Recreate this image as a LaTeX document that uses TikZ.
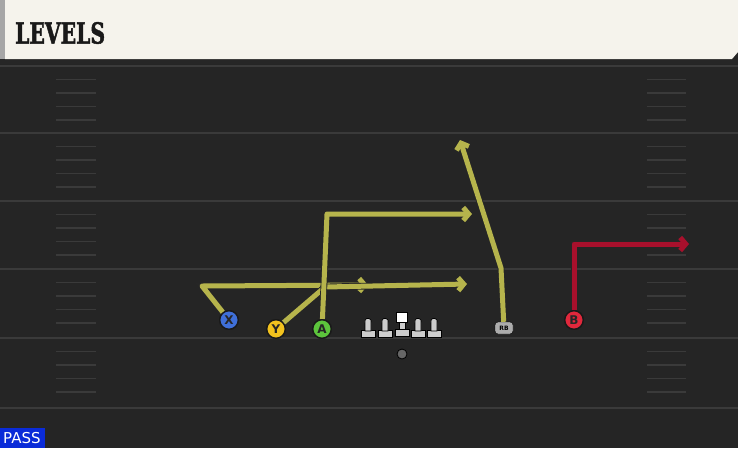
\documentclass[tikz,border=0pt]{standalone}
\usepackage{fontspec}
\setsansfont{DejaVu Sans}
\newfontfamily\titlefont[FakeStretch=0.7,FakeBold=1.5]{DejaVu Serif}
\usepackage{tikz}
\usetikzlibrary{arrows.meta}

\definecolor{fieldbg}{HTML}{252525}
\definecolor{fieldline}{HTML}{3A3A3A}
\definecolor{cream}{HTML}{F5F3EC}
\definecolor{routeyellow}{HTML}{B6B44C}
\definecolor{routered}{HTML}{A8102C}
\definecolor{xblue}{HTML}{3F6FD8}
\definecolor{yyellow}{HTML}{F2C21E}
\definecolor{agreen}{HTML}{5CC43C}
\definecolor{bred}{HTML}{E0283C}
\definecolor{passblue}{HTML}{0A2BD8}
\definecolor{olgrey}{HTML}{CDCDCD}

\begin{document}
\begin{tikzpicture}[x=1pt,y=-1pt,
  player/.style={circle,draw=black!90,line width=1.3pt,minimum size=18.5pt,inner sep=0pt,
    font=\sffamily\bfseries\fontsize{12}{12}\selectfont,text=black!85},
  route/.style={draw=routeyellow,line width=5pt,line join=round,
    preaction={draw=black!85,line width=6.8pt},
    -{Straight Barb[length=5.5pt,width=13pt]}},
  redroute/.style={route,draw=routered},
  yardline/.style={draw=fieldline,line width=2pt},
  hashmark/.style={draw=fieldline,line width=1.6pt},
  lineman/.style={draw=black,fill=olgrey,line width=0.7pt}]
\useasboundingbox (0,0) rectangle (738,448);
\fill[fieldbg] (0,0) rectangle (738,448);
%\fill[black!90] (0,59) rectangle (738,65);
\fill[black!85] (0,59) rectangle (738,64);
\fill[cream] (5,0) -- (738,0) -- (738,52) -- (732,59) -- (5,59) -- cycle;
\fill[gray!70] (0,0) rectangle (5,59);
\node[anchor=west,inner sep=0pt,font=\titlefont\bfseries\fontsize{29}{29}\selectfont,text=black!90] (title) at (15,33) {LEVELS};

\foreach \y in {66,133,201,269,338,408}
  \draw[yardline] (0,\y) -- (738,\y);
\foreach \g in {66,133,201,269,338}
  \foreach \d in {13.5,27,40.5,54}{
    \draw[hashmark] (56,\g+\d) -- (96,\g+\d);
    \draw[hashmark] (647,\g+\d) -- (686,\g+\d);
  }

% offensive line
\foreach \x in {368,385,418,434}{
  \filldraw[lineman] (\x-7,330.5) rectangle (\x+7,337.5);
  \filldraw[lineman] (\x-3,322.5) -- (\x-3,331) -- (\x+3,331) -- (\x+3,322.5) arc[start angle=-20,end angle=200,radius=3.2pt] -- cycle;
}
\filldraw[lineman] (395,329) rectangle (409,336);
\filldraw[lineman] (399,321) rectangle (405,329.5);
\filldraw[draw=black,fill=white,line width=0.7pt] (396.5,312.5) rectangle (407.5,322);
\filldraw[draw=black,fill=gray!80!black,line width=0.8pt] (402,354) circle[radius=5pt];

\node[player,fill=xblue] (X) at (229,320) {X};
\node[player,fill=yyellow] (Y) at (276,329) {Y};
\node[player,fill=agreen] (A) at (322,329) {A};
\node[player,fill=bred] (B) at (574,320) {B};
\node[draw=black,fill=gray!65,rounded corners=3pt,minimum width=18pt,minimum height=12pt,
  inner sep=0pt,font=\sffamily\bfseries\fontsize{6}{6}\selectfont] (RB) at (504,328) {RB};

\coordinate (xcut) at (202,286);
\coordinate (xend) at (368,285);
\coordinate (ycut) at (325,287);
\coordinate (yend) at (467,284);
\coordinate (acut) at (327,214);
\coordinate (aend) at (472,214);
\coordinate (rbcut) at (501,268);
\coordinate (rbend) at (460,140);
\coordinate (bcut) at (574,244);
\coordinate (bend) at (689,244);

\draw[route] (X) -- (xcut) -- (xend);
\draw[route] (Y) -- (ycut) -- (yend);
\draw[route] (A) -- (acut) -- (aend);
\draw[route] (RB) -- (rbcut) -- (rbend);
\draw[redroute] (B) -- (bcut) -- (bend);
\node[player,fill=xblue] at (X) {X};
\node[player,fill=yyellow] at (Y) {Y};
\node[player,fill=agreen] at (A) {A};
\node[player,fill=bred] at (B) {B};

\fill[passblue] (0,428) rectangle (45,448);
\node[anchor=west,inner sep=0pt,text=white,font=\sffamily\fontsize{15}{15}\selectfont] (pass) at (3,438.5) {PASS};
\end{tikzpicture}
\end{document}
